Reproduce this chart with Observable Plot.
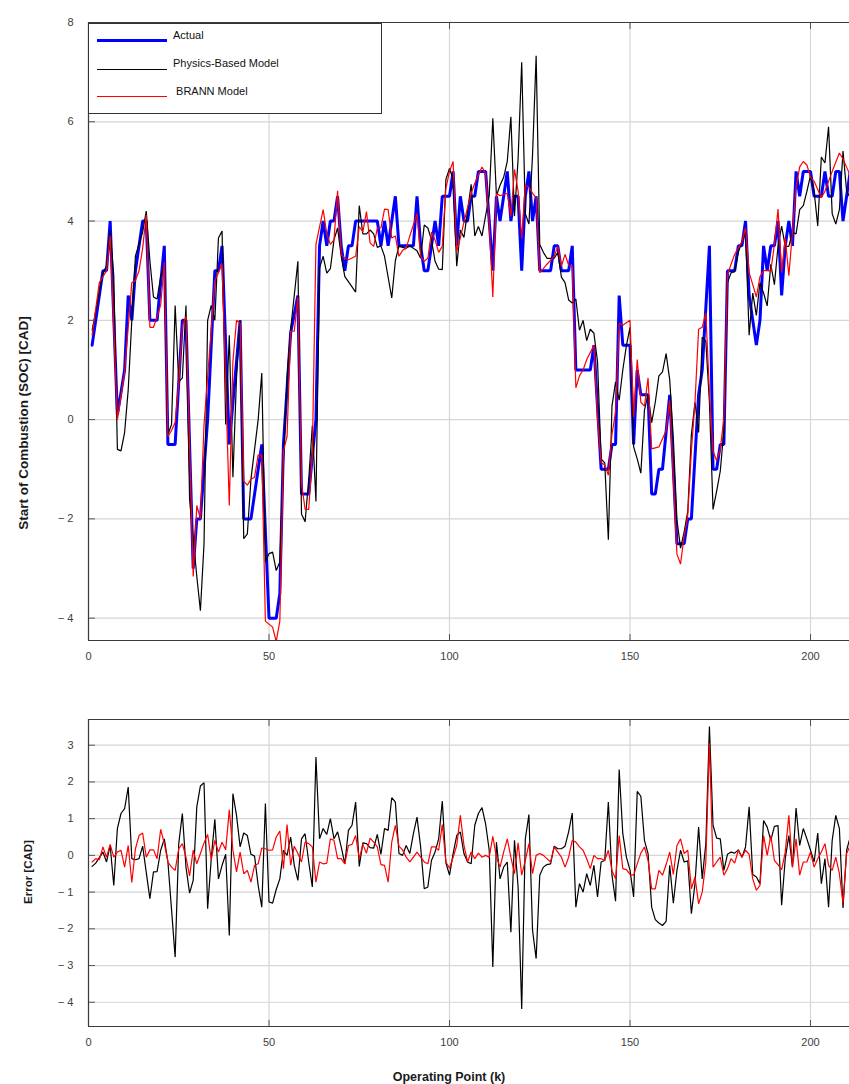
<!DOCTYPE html>
<html><head><meta charset="utf-8">
<script src="https://cdn.jsdelivr.net/npm/d3@7"></script>
<script src="https://cdn.jsdelivr.net/npm/@observablehq/plot@0.6"></script>
<style>
body{margin:0;background:#fff;}
#wrap{position:relative;width:849px;height:1084px;overflow:hidden;font-family:"Liberation Sans",Arial,sans-serif;background:#fff;}
#top,#bottom{position:absolute;left:0;}
#top{top:0}
#bottom{top:680px}
.lab{position:absolute;font-weight:bold;color:#1a1a1a;white-space:nowrap;}
.rot{transform:translate(-50%,-50%) rotate(-90deg);}
#legend{position:absolute;left:88px;top:23px;width:294px;height:91px;border:1px solid #333;background:#fff;box-sizing:border-box;font-size:11px;color:#111;}
#legend .t{position:absolute;line-height:12px;}
#legend .l{position:absolute;left:8px;width:70px;}
</style></head><body><div id="wrap">
<div id="top"></div>
<div id="bottom"></div>
<div id="legend">
  <div class="l" style="top:15px;height:3px;background:#0000ff"></div>
  <div class="t" style="left:84px;top:5px">Actual</div>
  <div class="l" style="top:45px;height:1px;background:#000"></div>
  <div class="t" style="left:84px;top:33px">Physics-Based Model</div>
  <div class="l" style="top:72px;height:1px;background:#ff0000"></div>
  <div class="t" style="left:84px;top:61px">&nbsp;BRANN Model</div>
</div>
<div class="lab rot" style="left:23px;top:423px;font-size:13.5px">Start of Combustion (SOC) [CAD]</div>
<div class="lab rot" style="left:28px;top:872px;font-size:11.5px">Error [CAD]</div>
<div class="lab" style="left:449px;top:1077px;transform:translate(-50%,-50%);font-size:12.5px">Operating Point (k)</div>
</div>
<script>
// ---- axes ----
const xDomain = [0, 210.8];
const xTicks = [0, 50, 100, 150, 200];
const socDomain = [-4.45, 8];
const socTicks = [-4, -2, 0, 2, 4, 6, 8];
const errDomain = [-4.66, 3.7];
const errTicks = [-4, -3, -2, -1, 0, 1, 2, 3];

// ---- Actual SOC ----
const actualK = [1,4,5,6,8,10,11,12,13,15,16,17,19,21,22,24,26,27,29,30,31,33,35,36,37,39,42,43,45,48,50,52,53,54,56,58,59,61,63,64,65,66,67,68,69,70,71,72,73,74,80,81,82,83,84,85,86,90,91,92,93,94,96,97,98,100,101,102,103,104,105,106,107,108,110,112,113,114,116,117,118,119,120,121,122,123,124,125,128,129,130,131,133,134,135,139,140,142,144,145,146,147,148,150,151,152,153,155,156,157,158,159,161,163,165,166,167,169,170,172,173,174,175,176,177,179,180,181,182,183,185,186,187,188,189,190,191,192,193,194,195,196,197,198,200,201,203,204,205,206,207,208,209,211];
const actualV = [1.5,3,3,4,0.1,1,2.5,2,3,4,4,2,2,3.5,-0.5,-0.5,2,2,-3,-2,-2,0,3,3,3.5,-0.5,2,-2,-2,-0.5,-4,-4,-3.5,-0.5,1.75,2.5,-1.5,-1.5,0,3.5,4,3.5,4,4,4.5,3.5,3,3.5,3.5,4,4,3.5,4,3.5,4,4.5,3.5,3.5,4.5,3.5,3,3,4,3.5,4.5,4.5,5,3.5,4.5,4,4,4.5,4.5,5,5,3,4.5,4,5,4,4.5,4.5,3,4.5,5,4,4.5,3,3,3.5,3.5,3,3,3.5,1,1,1.5,-1,-1,-0.5,-0.5,2.5,1.5,1.5,-0.5,1,0.5,0.5,-1.5,-1.5,-1,-1,0.5,-2.5,-2.5,-2,-2,0.5,1,3.5,-1,-1,-0.5,-0.5,3,3,3.5,3.5,4,2.5,1.5,2,3.5,3,3.5,3.5,4,2.5,3.5,4,3.5,5,4.5,5,5,4.5,4.5,5,4.5,4.5,5,5,4,5];

// ---- Physics-Based Model SOC ----
const physK = [1,4,5,6,7,8,9,10,11,12,13,15,16,17,18,19,20,21,22,23,24,25,26,27,28,30,31,32,33,34,35,36,37,38,39,40,41,42,43,44,45,47,48,49,50,51,52,53,54,55,56,58,59,60,61,62,63,64,65,66,67,68,69,70,71,72,74,75,76,77,78,79,80,81,82,84,85,86,87,88,89,91,92,93,94,95,96,97,98,99,100,101,102,103,104,105,106,107,108,109,111,112,113,114,115,116,117,118,119,120,121,122,123,124,125,126,127,129,130,131,132,133,134,135,136,137,138,139,140,141,142,143,144,145,146,147,148,149,150,151,152,153,154,155,156,157,158,159,160,161,162,163,164,165,166,167,168,169,170,171,172,173,174,175,176,177,178,179,180,181,182,183,184,185,186,187,188,189,190,191,192,193,194,195,196,197,198,199,200,201,202,203,204,205,206,207,208,209,210,211];
const physV = [1.8,2.96,3.1,3.8,2.9,-0.6,-0.63,-0.26,0.6,2.0,3.3,3.78,4.2,3.2,2.47,2.43,2.88,3.1,-0.3,-0.1,2.3,0.76,0.84,2.3,-1.6,-3.16,-3.85,-2.5,2.0,2.3,2.0,3.66,3.8,-0.1,1.7,-1.16,0.84,2.0,-2.4,-2.3,-1.2,0,0.94,-2.87,-2.7,-2.67,-3.04,-2.87,-0.87,0.84,1.82,3.19,-1.9,-2.06,-1.2,-0.12,-1.65,3.06,3.29,2.95,3.04,3.62,3.86,3.29,2.88,2.78,2.57,4.31,3.74,3.74,3.82,3.74,3.47,3.5,3.29,2.45,3.2,3.5,3.47,3.45,3.5,3.4,3.25,3.92,3.86,3.62,3.19,3.03,3.02,4.84,5.06,4.84,3.09,3.82,3.67,4.2,4.74,3.7,3.89,3.7,4.51,6.07,4.51,4.72,4.88,5.2,6.1,4.1,5.25,7.2,4.15,3.94,5.33,7.33,3.53,3.37,3.25,3.25,3.37,2.87,2.76,2.41,2.35,2.43,1.8,2.0,1.59,1.82,1.74,1.17,-0.79,-0.87,-2.42,0.27,0.76,0.39,1.0,1.49,1.86,-0.55,-0.79,-1.08,0.19,0.51,-0.06,0.35,0.88,0.96,1.33,0.8,-0.38,-2.02,-2.59,-2.26,-1.85,-0.3,0.35,-0.26,1.66,1.58,0.35,-1.81,-1.44,-1.04,-0.22,2.76,2.96,2.98,3.37,3.58,3.78,1.7,2.55,2.1,2.76,2.55,2.29,3.13,2.72,3.49,3.9,3.49,3.49,3.78,3.74,4.23,4.31,4.6,4.92,4.6,3.9,5.29,5.17,5.9,4.15,3.94,4.23,5.41,4.6,4.47];

// ---- BRANN Model SOC ----
const brannK = [1,3,5,6,8,10,12,13,14,15,16,17,18,19,20,21,22,23,24,25,26,27,29,30,31,32,34,35,36,37,39,40,41,42,43,44,45,46,47,48,49,51,52,53,54,55,56,57,58,59,60,61,62,63,65,66,67,68,69,70,71,72,74,75,76,77,78,79,80,81,82,83,84,85,86,87,88,89,91,92,93,94,95,96,97,98,99,100,101,102,103,104,105,106,107,109,110,111,112,113,114,116,117,118,119,120,121,122,123,124,125,126,127,129,130,131,132,133,134,135,136,137,138,140,141,142,143,144,145,146,147,148,150,151,152,153,154,155,156,158,160,161,162,163,164,165,166,167,168,169,170,171,172,173,174,175,176,177,178,179,181,182,183,184,185,186,187,188,189,190,191,192,193,194,195,196,197,198,199,200,201,203,204,205,206,208,209,211];
const brannV = [1.7,2.76,3.0,3.71,0,0.96,2.76,2.8,3.0,3.45,4.12,1.86,1.86,2.07,2.31,3.17,-0.34,-0.22,-0.06,0.76,1.9,2.07,-3.16,-1.73,-2.0,-0.1,1.82,2.8,2.96,3.14,-1.73,1.17,2.0,1.94,-1.24,-1.32,-1.2,-1.16,-0.71,-0.71,-4.06,-4.18,-4.47,-4.06,-0.63,-0.34,1.78,1.78,2.47,-1.28,-1.81,-1.81,-0.71,3.53,4.23,3.74,3.53,3.62,4.61,3.33,3.25,3.22,3.29,3.89,3.78,4.19,3.56,3.49,3.86,3.86,4.24,4.23,3.66,3.7,3.29,3.41,3.45,3.7,4.15,3.29,3.19,3.25,3.78,3.62,3.37,3.49,4.66,5.0,5.2,3.39,3.66,3.98,4.27,4.56,4.76,5.09,4.96,3.94,2.47,4.56,4.51,4.56,4.1,5.04,4.6,3.66,4.72,4.68,4.56,4.47,2.96,3.04,3.13,3.29,3.49,3.09,3.33,3.11,3.09,0.64,0.88,1.0,1.21,1.49,0.02,-0.87,-0.91,-1.12,-0.3,0.15,1.94,1.9,2.0,0.05,1.21,0.35,0.27,0.84,-0.59,-0.55,-0.22,0.39,-1.2,-2.71,-2.91,-2.34,-1.93,-0.63,0.35,1.82,1.86,2.15,0.56,-0.63,-0.83,-0.59,0.02,2.92,3.13,3.33,3.58,3.86,2.96,2.72,2.47,2.88,3.0,3.0,2.99,3.53,4.24,2.96,3.66,2.9,3.78,4.68,5.09,5.2,5.13,4.88,4.8,4.47,4.6,4.8,5.0,5.37,5.25,4.92];

// ---- Errors ----
const errPhysK = [1,2,4,5,6,7,8,9,10,11,12,13,14,15,17,18,19,20,21,22,24,25,26,27,28,29,30,31,32,33,34,35,36,37,38,39,40,41,42,43,44,45,46,47,48,49,50,51,52,53,54,55,56,57,58,59,60,61,62,63,64,65,66,67,68,69,70,71,72,73,74,75,76,77,78,79,80,81,82,83,84,85,86,87,88,89,90,91,92,93,94,95,96,97,98,99,100,101,102,103,104,105,106,107,108,109,110,111,112,113,114,115,116,117,118,119,120,121,122,123,124,125,126,127,128,129,130,131,132,133,134,135,136,137,138,139,140,141,142,143,144,145,146,147,148,149,150,151,152,153,154,155,156,157,158,159,160,161,162,163,164,165,166,167,168,169,170,171,172,173,174,175,176,177,178,179,180,181,182,183,184,185,186,187,188,189,190,191,192,193,194,195,196,197,198,199,200,201,202,203,204,205,206,207,208,209,210,211];
const errPhysV = [-0.3,-0.21,0.09,-0.18,0.27,-0.82,0.73,1.14,1.27,1.86,-0.09,-0.12,-0.09,0.25,-1.18,-0.45,-0.44,0.14,0.45,-0.18,-2.77,0.32,1.14,-0.32,-1.03,-0.68,1.32,1.89,1.98,-1.45,-0.09,0.98,-0.64,-0.27,0.03,-2.18,1.68,1.09,0.23,0.61,0.54,0.03,-0.02,-0.82,-1.41,1.41,-1.27,-1.3,-0.93,-0.64,0.14,0,0.5,-0.27,-0.68,0.45,0.59,-0.18,-0.86,2.68,0.45,0.73,0.57,1.0,0.45,0.64,0.23,-0.23,0.68,0.82,1.45,-0.3,0.34,0.32,0.21,0.2,0.57,0.03,0.73,0.68,1.57,1.45,0.05,0,0.27,0.05,0.59,1.04,0.23,-0.91,-0.86,-0.14,0.09,0.45,1.48,-0.2,-0.54,0.05,0.54,0.64,0.05,-0.18,-0.23,0.82,1.14,1.3,0.86,0.14,-3.04,0.36,-0.64,-0.32,-0.18,-2.09,0.41,-0.86,-4.18,0.45,1.11,-2.04,-2.81,-0.54,-0.32,-0.25,-0.23,0.25,0.18,0.18,0.25,0.64,1.15,-1.41,-0.77,-1.0,-0.5,-0.82,-0.27,-1.13,-0.18,-0.14,1.45,-0.54,-1.25,2.34,0.59,-0.05,-0.4,-1.13,1.74,1.61,0.41,0.05,-1.41,-1.75,-1.84,-1.91,-1.8,-0.27,-1.3,-0.41,0.14,-0.18,-0.15,-1.59,-0.77,0.77,-0.64,0.32,3.51,0.82,0.47,0.45,-0.41,0.03,0.09,0.06,0.15,-0.05,0.23,1.32,-0.52,-0.59,-0.77,0.95,0.77,0.41,0.79,0.81,-1.36,-0.09,0.54,-0.32,1.29,0.27,0.73,0.45,0.14,-0.18,0.61,-0.77,-0.09,-1.41,0.41,1.09,0.73,-1.43,0.14,0.5];
const errBrannK = [1,2,3,4,5,6,7,8,9,10,11,12,13,14,15,16,17,18,19,20,21,22,23,24,25,26,27,28,29,30,31,32,33,34,35,36,37,38,39,40,41,42,43,44,45,46,47,48,49,50,51,52,53,54,55,56,57,58,59,60,61,62,63,64,65,66,67,68,69,70,71,72,73,74,75,76,77,78,79,80,81,82,83,84,85,86,87,88,89,90,91,92,93,94,95,96,97,98,99,100,101,102,103,104,105,106,107,108,109,110,111,112,113,114,115,116,117,118,119,120,121,122,123,124,125,126,127,128,129,130,131,132,133,134,135,136,137,138,139,140,141,142,143,144,145,146,147,148,149,150,151,152,153,154,155,156,157,158,159,160,161,162,163,164,165,166,167,168,169,170,171,172,173,174,175,176,177,178,179,180,181,182,183,184,185,186,187,188,189,190,191,192,193,194,195,196,197,198,199,200,201,202,203,204,205,206,207,208,209,210,211];
const errBrannV = [-0.18,-0.09,-0.12,0.23,-0.05,0.3,-0.05,0.09,0.14,-0.32,0.27,-0.74,0.18,0.54,0.61,-0.05,0.15,0.15,-0.09,0.71,0.32,-0.18,-0.32,-0.41,0.18,0.32,-0.05,-0.56,0.14,-0.23,0.05,0.34,0.57,-0.12,0.41,0.09,0.36,0.15,1.24,0.14,-0.45,0.09,-0.5,-0.41,-0.73,-0.27,-0.23,0.2,0.18,0.14,0.15,0.5,0.66,-0.36,0.84,-0.27,0.25,0.05,-0.18,0.36,0.32,0.23,-0.73,-0.18,-0.23,-0.21,0.45,0.41,-0.09,-0.09,-0.23,0.27,0.3,0.54,-0.09,0.3,0.06,0.47,0.36,0.23,-0.25,-0.27,-0.73,0.36,0.82,0.25,0.15,-0.05,-0.18,-0.05,0.09,-0.05,-0.18,-0.23,0.23,0.23,0.14,0.84,-0.18,-0.35,-0.05,0.27,1.09,0.27,-0.18,0.09,-0.09,0.06,-0.05,0,-0.05,0.52,-0.05,-0.32,0.09,0.45,-0.05,-0.5,0.34,-0.54,-0.14,0.32,-0.5,0,0.05,0,-0.09,-0.18,0.23,0.09,-0.05,-0.32,-0.05,0.41,0.36,0.23,0.14,-0.09,-0.36,0,-0.09,-0.09,-0.14,0.14,-0.41,-0.64,0.54,-0.36,-0.39,-0.52,-0.54,-0.23,0.06,0.23,-0.14,-0.91,-0.91,-0.41,-0.54,-0.25,0.09,-0.52,0.27,0.45,0.05,0.14,-0.91,-0.59,-1.32,-1.0,-0.18,3.05,-0.32,-0.18,-0.05,-0.54,-0.36,-0.09,-0.21,0.14,-0.05,0.14,0.03,-0.64,-0.95,-0.82,0.54,0,0.54,-0.14,-0.25,-0.39,0.09,1.09,-0.32,0.45,-0.54,-0.18,-0.18,0.09,-0.32,-0.09,0.09,0.32,-0.27,-0.41,-0.05,-0.5,-1.3,0.05,0.27];

const toRows = (K, V) => d3.zip(K, V).map(([k, v]) => ({k, v}));
const fmt = d => d < 0 ? "\u2212 " + (-d) : String(d);
const FONT = "'Liberation Sans', Arial, sans-serif";

function panel({height, marginTop, marginBottom, yDomain, yTicks, lines}) {
  return Plot.plot({
    width: 849, height, marginLeft: 88, marginRight: 0, marginTop, marginBottom,
    x: {domain: xDomain, label: null},
    y: {domain: yDomain, label: null},
    style: {fontFamily: FONT, fontSize: "11px", color: "#404040", background: "transparent", overflow: "visible"},
    marks: [
      Plot.gridX(xTicks, {stroke: "#d6d6d6", strokeOpacity: 1, strokeWidth: 1.2}),
      Plot.gridY(yTicks, {stroke: "#d6d6d6", strokeOpacity: 1, strokeWidth: 1.2}),
      ...lines.map(s => Plot.line(s.data, {x: "k", y: "v", stroke: s.color, strokeWidth: s.width, clip: true, strokeLinejoin: "miter"})),
      Plot.axisX(xTicks, {anchor: "bottom", label: null, tickSize: 0, tickPadding: 12, tickFormat: d => String(d), fill: "#404040"}),
      Plot.axisX(xTicks, {anchor: "bottom", label: null, tickSize: -6, text: null, stroke: "#555"}),
      Plot.axisX(xTicks, {anchor: "top", label: null, tickSize: -6, text: null, stroke: "#555"}),
      Plot.axisY(yTicks, {anchor: "left", label: null, tickSize: 0, tickPadding: 15, tickFormat: fmt, fill: "#404040"}),
      Plot.axisY(yTicks, {anchor: "left", label: null, tickSize: -7, text: null, stroke: "#555"}),
      Plot.ruleX([xDomain[0]], {stroke: "#3a3a3a", strokeWidth: 1.2}),
      Plot.ruleY(yDomain, {stroke: "#3a3a3a", strokeWidth: 1.2})
    ]
  });
}

document.getElementById("top").append(panel({
  height: 680, marginTop: 22, marginBottom: 40, yDomain: socDomain, yTicks: socTicks,
  lines: [
    {data: toRows(actualK, actualV), color: "#0000ff", width: 3},
    {data: toRows(physK, physV), color: "#000000", width: 1.2},
    {data: toRows(brannK, brannV), color: "#ff0000", width: 1.2}
  ]
}));
document.getElementById("bottom").append(panel({
  height: 376, marginTop: 39, marginBottom: 30, yDomain: errDomain, yTicks: errTicks,
  lines: [
    {data: toRows(errPhysK, errPhysV), color: "#000000", width: 1.2},
    {data: toRows(errBrannK, errBrannV), color: "#ff0000", width: 1.2}
  ]
}));
</script>
</body></html>
